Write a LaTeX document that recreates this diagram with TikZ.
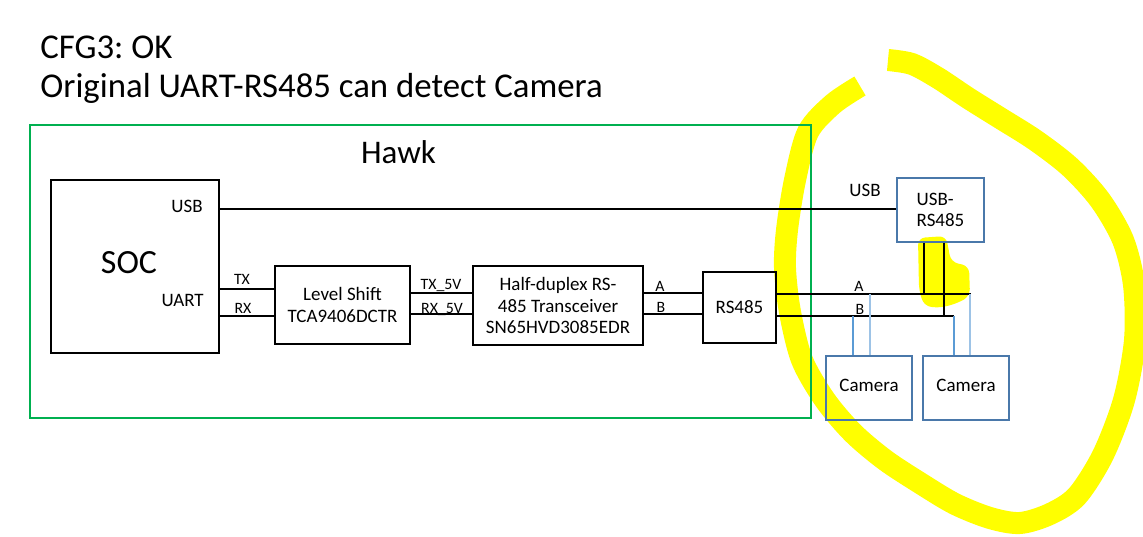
\documentclass[tikz,border=0pt]{standalone}
\usepackage{fontspec}
\setmainfont{Carlito}
\frenchspacing
\usetikzlibrary{positioning,backgrounds}
\definecolor{hkGreen}{HTML}{00B050}
\definecolor{hkBlue}{HTML}{4A78AA}
\definecolor{hkWire}{HTML}{5B9BD5}
\definecolor{hkLight}{HTML}{9DC3E6}
\definecolor{hkMark}{HTML}{FFFF00}

\begin{document}
\begin{tikzpicture}[x=0.02cm, y=-0.02cm,
  txt/.style={font=\fontsize{10.8}{12.2}\selectfont},
  big/.style={font=\fontsize{18.8}{21}\selectfont},
  lbl/.style={font=\fontsize{9}{11}\selectfont, anchor=base},
  caja/.style={draw, line width=1pt, align=center, inner sep=0pt, txt},
  cajaAzul/.style={caja, draw=hkBlue},
  grueso/.style={line width=1.7pt},
  fino/.style={line width=1.1pt},
  ramal/.style={line width=1pt, draw=hkWire},
  ramalA/.style={line width=0.8pt, draw=hkLight},
  marca/.style={draw=hkMark, line width=0.44cm},
]
\useasboundingbox (0,0) rectangle (1143,537);

% ---- Titulo ----
\node[font=\fontsize{19.8}{22}\selectfont, anchor=base west, inner sep=0] (t1) at (40,59) {CFG3: OK};
\node[font=\fontsize{19.8}{22}\selectfont, anchor=base west, inner sep=0] (t2) at (40,98) {Original UART-RS485 can detect Camera};

% ---- Hawk ----
\node[draw=hkGreen, line width=1.1pt, minimum width=15.62cm, minimum height=5.86cm, inner sep=0] (hawk) at (420.5,271.5) {};
\node[big, anchor=base, inner sep=0] (hawklbl) at (398.5,163) {Hawk};

\node[caja, minimum width=3.36cm, minimum height=3.46cm] (soc) at (135,266.5) {};
\node[font=\fontsize{19.3}{22}\selectfont, anchor=base, inner sep=0] (soclbl) at (129,273) {SOC};
\node[txt, anchor=base east, inner sep=0] (usbpin) at (203,213) {USB};
\node[txt, anchor=base east, inner sep=0] (uartpin) at (204,306) {UART};

\node[caja, minimum width=2.70cm, minimum height=1.56cm] (lvl) at (342.5,305)
     {Level Shift\\TCA9406DCTR};
\node[caja, minimum width=3.40cm, minimum height=1.58cm] (xcvr) at (558,305.5)
     {Half-duplex RS-\\485 Transceiver\\SN65HVD3085EDR};
\node[caja, minimum width=1.46cm, minimum height=1.42cm] (rs) at (739.5,307.5) {RS485};

% ---- Fuera de Hawk ----
\node[cajaAzul, align=left, minimum width=1.74cm, minimum height=1.28cm] (usbrs) at (940.5,210) {USB-\\RS485};
\node[cajaAzul, minimum width=1.72cm, minimum height=1.28cm, text depth=3.5pt] (cam1) at (869,388) {Camera};
\node[cajaAzul, minimum width=1.72cm, minimum height=1.28cm, text depth=3.5pt] (cam2) at (966,388) {Camera};

\coordinate (aend) at (971,294);
\coordinate (bend) at (954,316);

% ---- Cables ----
\draw[fino] (soc.east |- 0,209) -- (usbrs.west |- 0,209);
\draw[grueso] (soc.east |- 0,289) -- (lvl.west |- 0,289);
\draw[grueso] (soc.east |- 0,316) -- (lvl.west |- 0,316);
\draw[grueso] (lvl.east |- 0,293) -- (xcvr.west |- 0,293);
\draw[grueso] (lvl.east |- 0,314) -- (xcvr.west |- 0,314);
\draw[grueso] (xcvr.east |- 0,293) -- (rs.west |- 0,293);
\draw[grueso] (xcvr.east |- 0,314) -- (rs.west |- 0,314);
\draw[grueso] (rs.east |- aend) -- (aend);
\draw[fino] (rs.east |- bend) -- (bend);
\draw[fino] (usbrs.south -| 924,0) -- (924,294);
\draw[fino] (usbrs.south -| 944,0) -- (944,316);

\draw[ramal]  (cam1.north -| 853,0) -- (853,316);
\draw[ramalA] (cam1.north -| 870,0) -- (870,294);
\draw[ramal]  (cam2.north -| 954,0) -- (bend);
\draw[ramalA] (cam2.north -| 970,0) -- (970,294);

% ---- Etiquetas ----
\node[lbl] (ltx) at (242,284) {TX};
\node[lbl] (lrx) at (243,313) {RX};
\node[lbl] (ltx5) at (441,289) {TX\_5V};
\node[lbl] (lrx5) at (442,313) {RX\_5V};
\node[lbl] (la) at (660,291) {A};
\node[lbl] (lb) at (661,312) {B};
\node[lbl] (la2) at (859,291) {A};
\node[lbl] (lb2) at (860,314) {B};
\node[txt, anchor=base, inner sep=0] (lusb) at (865,196) {USB};

% ---- Marca amarilla ----
\begin{scope}[on background layer]
\draw[marca] plot[smooth] coordinates {(860,86) (833,104) (808,132) (795,180) (787,230) (785,268)
  (790,312) (802,360) (825,400) (853,433) (885,460) (920,483) (955,504) (990,518) (1020,523)
  (1050,514) (1077,496) (1103,455) (1124,400) (1135,340) (1134,285) (1123,240) (1100,200)
  (1070,167) (1035,140) (1000,118) (968,98) (938,78) (912,64) (888,60)};
\fill[hkMark, rounded corners=4pt] (918,238) -- (946,236) -- (951,262) -- (969,266) -- (970,296)
  -- (958,303) -- (940,308) -- (924,306) -- (919,290) -- cycle;
\end{scope}
\end{tikzpicture}
\end{document}
